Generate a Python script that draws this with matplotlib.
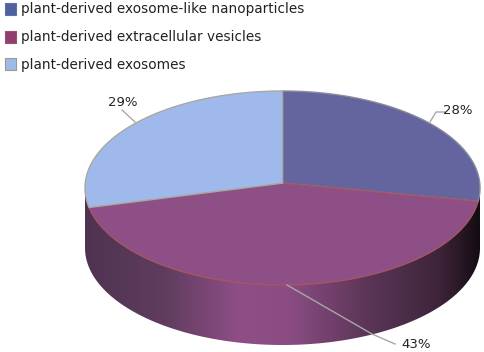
import numpy as np
import matplotlib
matplotlib.use('Agg')
import matplotlib.pyplot as plt
from matplotlib.colors import LinearSegmentedColormap
from matplotlib.patches import Polygon, Rectangle

# Data
labels = ['plant-derived exosome-like nanoparticles', 'plant-derived extracellular vesicles', 'plant-derived exosomes']
values = [28, 43, 29]
colors = ['#64659f', '#8e4f87', '#a0b9ec']
edges = ['#8a8a9a', '#a5565f', '#a8a8a0']
legend_colors = ['#4f62a0', '#8e3f70', '#a0b9ec']
legend_edges = ['#5a70b0', '#a05060', '#a09a80']

W, H = 484, 352
fig = plt.figure(figsize=(W / 100, H / 100), dpi=100)

left, right, top, bottom = 85, 480, 91, 285
depth = 60 / ((bottom - top) / 2)
tilt = 0.05  # perspective, pulls the pie centre up towards the back edge
ax = fig.add_axes([left / W, 1 - bottom / H, (right - left) / W, (bottom - top) / H])
ax.set_xlim(-1, 1)
ax.set_ylim(-1, 1)
ax.axis('off')

# side wall of the cylinder
t = np.linspace(np.pi, 2 * np.pi, 200)
wall = np.vstack([[[-1, 0]], np.column_stack([np.cos(t), np.sin(t) - depth]), [[1, 0]], [[0, 1]]])
shade = LinearSegmentedColormap.from_list('wall', [
    (0.0, '#4e3350'), (0.2, '#5f3c5e'), (0.39, '#8e4f87'), (0.52, '#8a4c83'),
    (0.72, '#5a3556'), (0.9, '#3d2439'), (1.0, '#150c14')])
im = ax.imshow(np.linspace(0, 1, 256)[None, :], cmap=shade, extent=(-1, 1, -1 - depth, 1), aspect='auto')
clip = Polygon(wall, closed=True, transform=ax.transData, fc='none', ec='none', clip_on=False)
ax.add_patch(clip)
im.set_clip_box(fig.bbox)
im.set_clip_path(clip)
ax.set_xlim(-1, 1)
ax.set_ylim(-1, 1)

# slices, clockwise from 12 o'clock
stops = np.radians(90 - 3.6 * np.concatenate([[0], np.cumsum(values)]))
for i in range(len(values)):
    a = np.linspace(stops[i], stops[i + 1], 120)
    x, y = np.r_[0, np.cos(a)], np.r_[0, np.sin(a)]
    px = x * np.sqrt(1 - tilt ** 2) / (1 + tilt * y)
    py = (y + tilt) / (1 + tilt * y)
    ax.fill(px, py, fc=colors[i], ec=edges[i], lw=1, clip_on=False)

# texts and leaders in pixel coordinates
top_ax = fig.add_axes([0, 0, 1, 1])
top_ax.set_xlim(0, W)
top_ax.set_ylim(H, 0)
top_ax.axis('off')

for i, name in enumerate(labels):
    y = 9 + i * 27.5
    top_ax.add_patch(Rectangle((5, y - 6), 11, 12, fc=legend_colors[i], ec=legend_edges[i], lw=0.8))
    top_ax.text(21, y + 0.5, name, fontsize=9.8, color='#222222', va='center', family='DejaVu Sans')

label_pos = [(458, 110), (416, 344), (123, 103)]
leaders = [([430, 436, 445], [122, 112, 112]), ([287, 372, 395], [285, 334, 344]), ([122, 135], [110, 122])]
for v, pos, (lx, ly) in zip(values, label_pos, leaders):
    top_ax.plot(lx, ly, color='#a8a8a8', lw=1)
    top_ax.text(pos[0], pos[1], '%d%%' % v, fontsize=9.5, color='#222222', ha='center', va='center', family='DejaVu Sans')

fig.savefig('out.png', dpi=100)
